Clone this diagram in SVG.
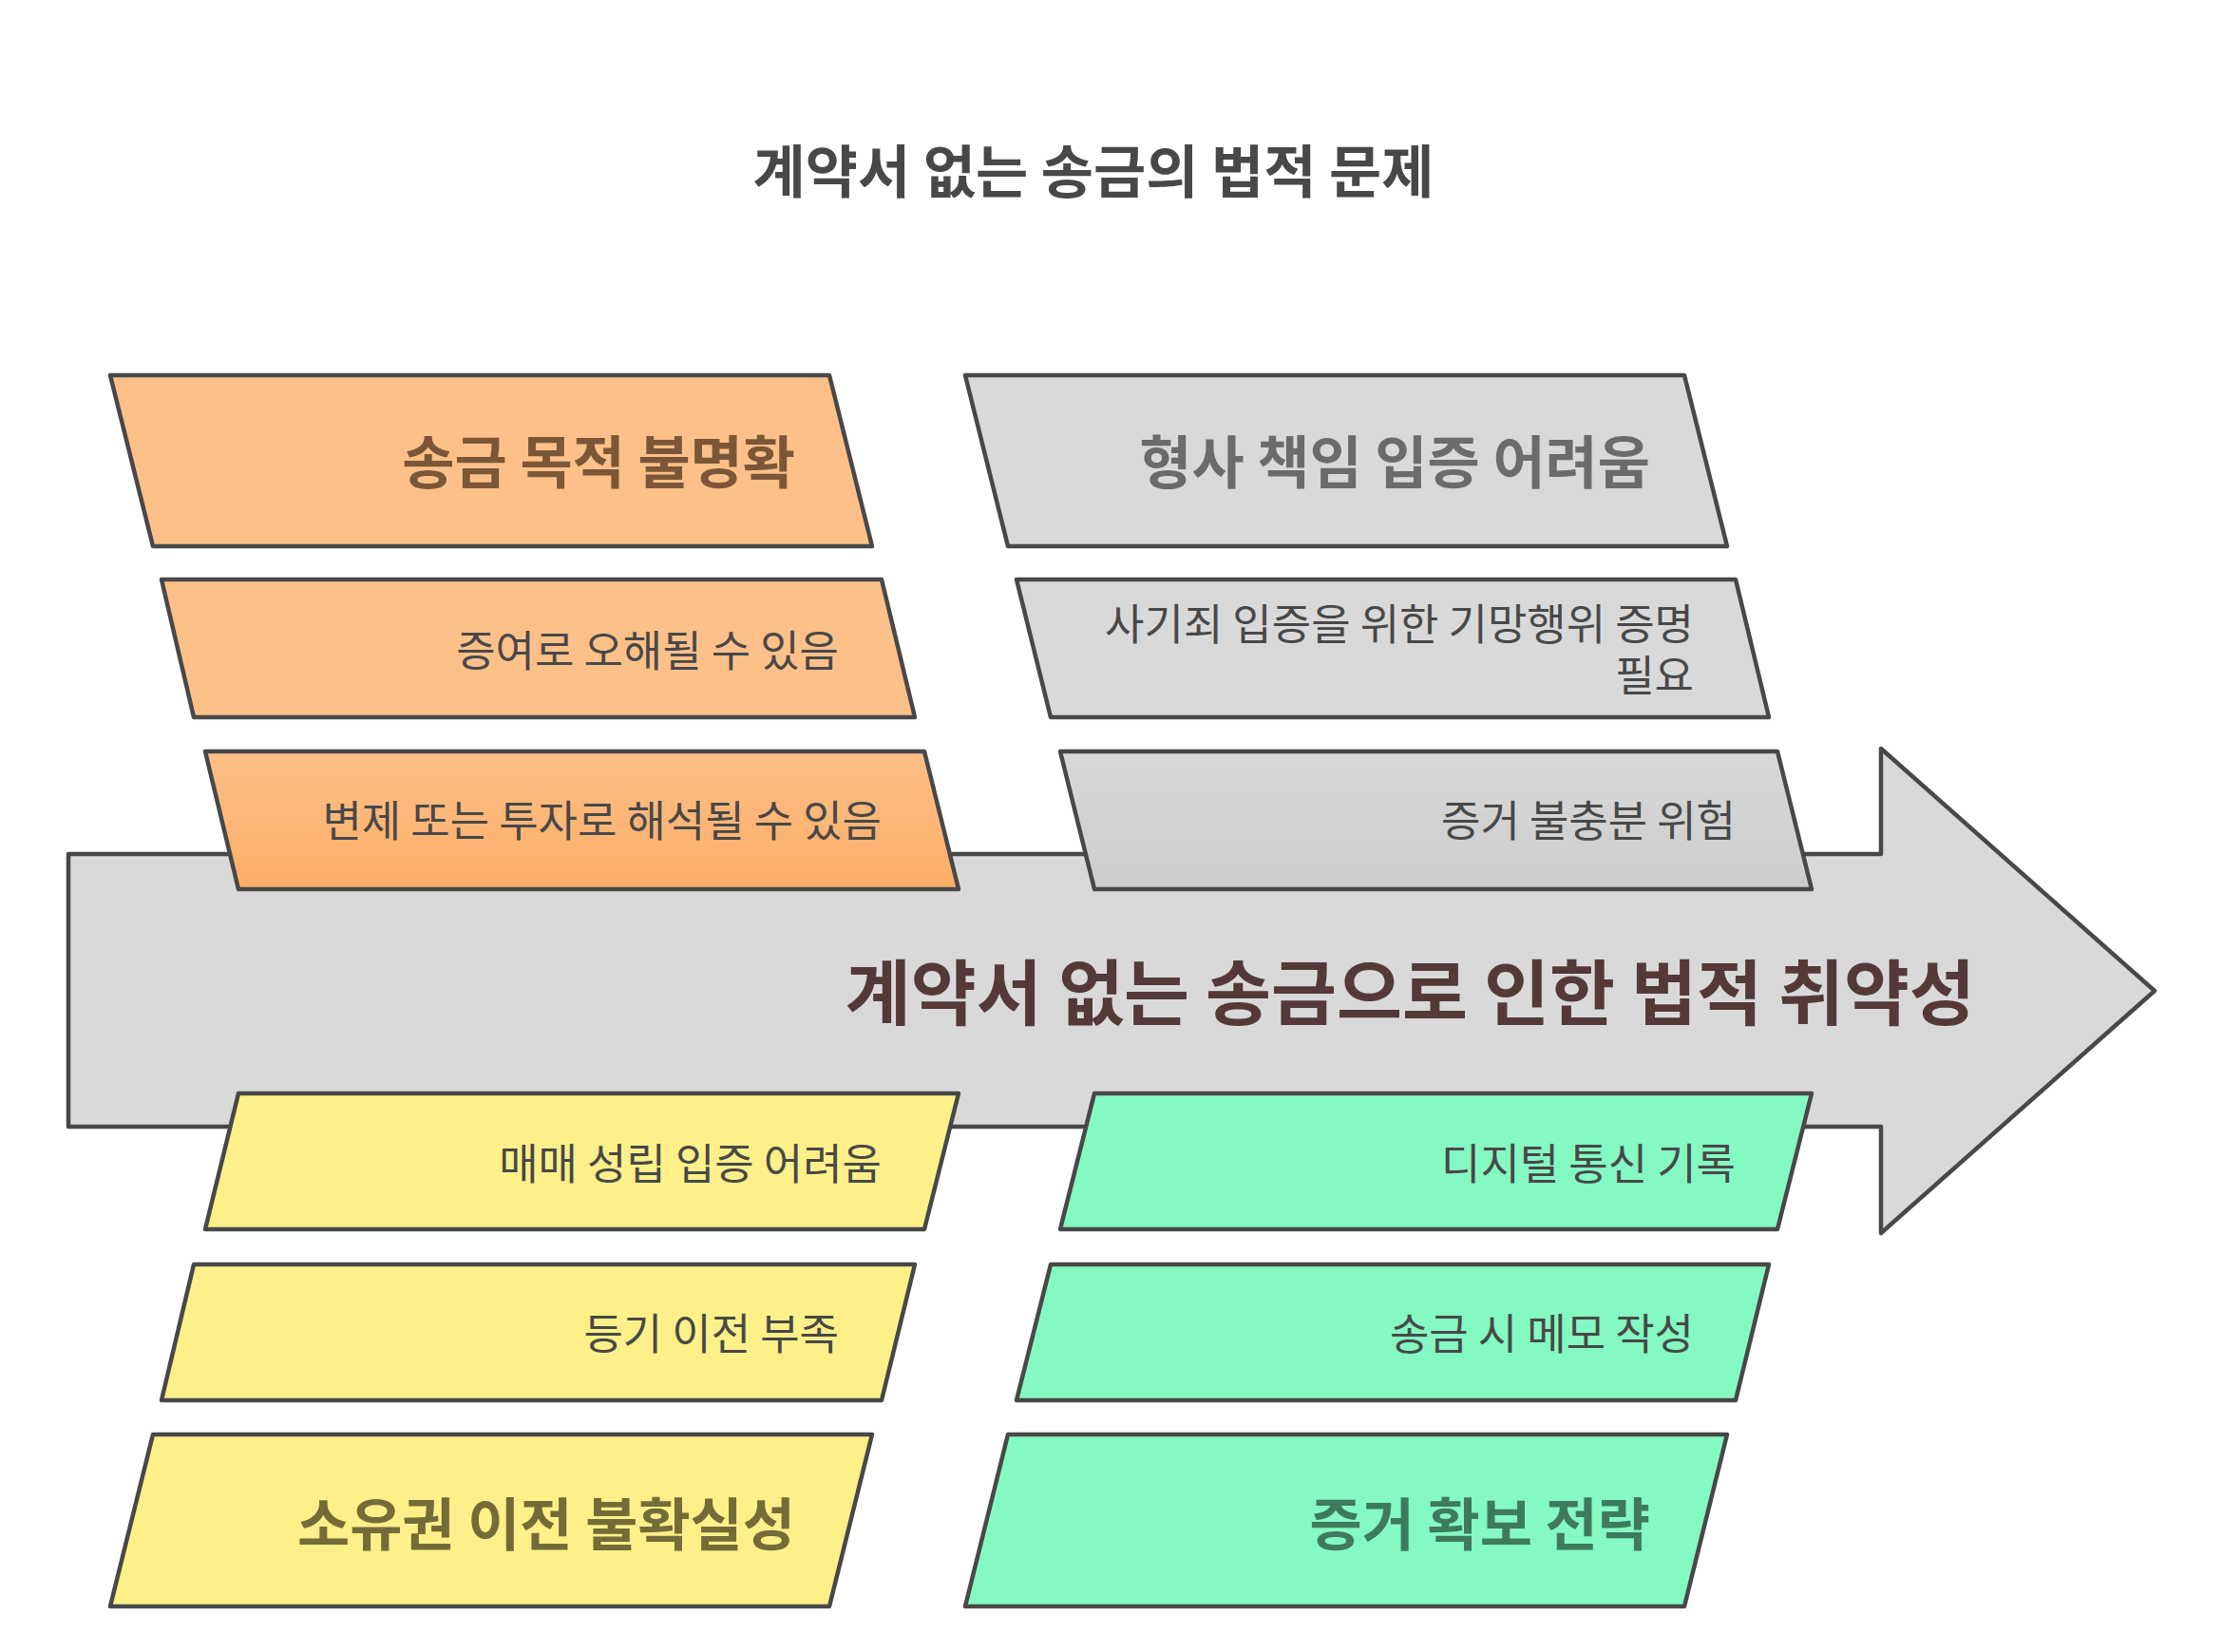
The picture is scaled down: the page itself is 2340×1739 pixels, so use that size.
<svg xmlns="http://www.w3.org/2000/svg" width="2340" height="1739" viewBox="0 0 2340 1739">
<style>
  .shape { stroke: #484848; stroke-width: 4.5; stroke-linejoin: round; }
  .orange { fill: #fec089; }
  .gray { fill: #d9d9d9; }
  .yellow { fill: #fef088; }
  .green { fill: #84f9c2; }
  text { font-family: "Noto Sans CJK KR", "Noto Sans", sans-serif; dominant-baseline: central; }
  .title { font-size: 60px; font-weight: 700; fill: #484848; text-anchor: middle; }
  .head { font-size: 60px; font-weight: 700; text-anchor: end; }
  .item { font-size: 45px; font-weight: 400; fill: #484848; text-anchor: end; }
  .main { font-size: 75px; font-weight: 700; fill: #553939; text-anchor: end; }
</style>
<defs>
  <linearGradient id="gOrange" x1="0" y1="0" x2="0" y2="1">
    <stop offset="0" stop-color="#febf86"/>
    <stop offset="1" stop-color="#fcae68"/>
  </linearGradient>
  <linearGradient id="gGray" x1="0" y1="0" x2="0" y2="1">
    <stop offset="0" stop-color="#d8d8d8"/>
    <stop offset="1" stop-color="#cdcdcd"/>
  </linearGradient>
</defs>
<rect width="2340" height="1739" fill="#ffffff"/>

<text id="title" class="title" x="1151" y="176">계약서 없는 송금의 법적 문제</text>

<g id="spine">
  <polygon class="shape gray" points="72,899 1980,899 1980,788 2268,1043 1980,1298 1980,1186 72,1186"/>
  <text class="main" x="2079" y="1040">계약서 없는 송금으로 인한 법적 취약성</text>
</g>

<g id="cause-purpose">
  <polygon class="shape orange" points="116,395 873,395 918,575 161,575"/>
  <text class="head" x="837" y="482" fill="#7b5737">송금 목적 불명확</text>
</g>
<g id="purpose-gift">
  <polygon class="shape orange" points="170,610 928,610 963,755 204,755"/>
  <text class="item" x="883" y="682">증여로 오해될 수 있음</text>
</g>
<g id="purpose-repay">
  <polygon class="shape" fill="url(#gOrange)" points="216,791 973,791 1009,936 251,936"/>
  <text class="item" x="928" y="861">변제 또는 투자로 해석될 수 있음</text>
</g>

<g id="cause-criminal">
  <polygon class="shape gray" points="1016,395 1773,395 1818,575 1061,575"/>
  <text class="head" x="1737" y="482" fill="#6b6b6b">형사 책임 입증 어려움</text>
</g>
<g id="criminal-fraud">
  <polygon class="shape gray" points="1070,610 1827,610 1862,755 1106,755"/>
  <text class="item" x="1783" y="654">사기죄 입증을 위한 기망행위 증명</text>
  <text class="item" x="1783" y="708">필요</text>
</g>
<g id="criminal-evidence">
  <polygon class="shape" fill="url(#gGray)" points="1116,791 1871,791 1907,936 1152,936"/>
  <text class="item" x="1827" y="861">증거 불충분 위험</text>
</g>

<g id="ownership-sale">
  <polygon class="shape yellow" points="251,1151 1009,1151 973,1294 216,1294"/>
  <text class="item" x="928" y="1222">매매 성립 입증 어려움</text>
</g>
<g id="ownership-registry">
  <polygon class="shape yellow" points="204,1331 963,1331 928,1474 170,1474"/>
  <text class="item" x="883" y="1401">등기 이전 부족</text>
</g>
<g id="cause-ownership">
  <polygon class="shape yellow" points="161,1510 918,1510 873,1691 116,1691"/>
  <text class="head" x="837" y="1600" fill="#756b38">소유권 이전 불확실성</text>
</g>

<g id="evidence-digital">
  <polygon class="shape green" points="1152,1151 1907,1151 1871,1294 1116,1294"/>
  <text class="item" x="1827" y="1222">디지털 통신 기록</text>
</g>
<g id="evidence-memo">
  <polygon class="shape green" points="1106,1331 1862,1331 1827,1474 1070,1474"/>
  <text class="item" x="1783" y="1401">송금 시 메모 작성</text>
</g>
<g id="cause-evidence">
  <polygon class="shape green" points="1061,1510 1818,1510 1773,1691 1016,1691"/>
  <text class="head" x="1737" y="1600" fill="#3f7a5c">증거 확보 전략</text>
</g>
</svg>
